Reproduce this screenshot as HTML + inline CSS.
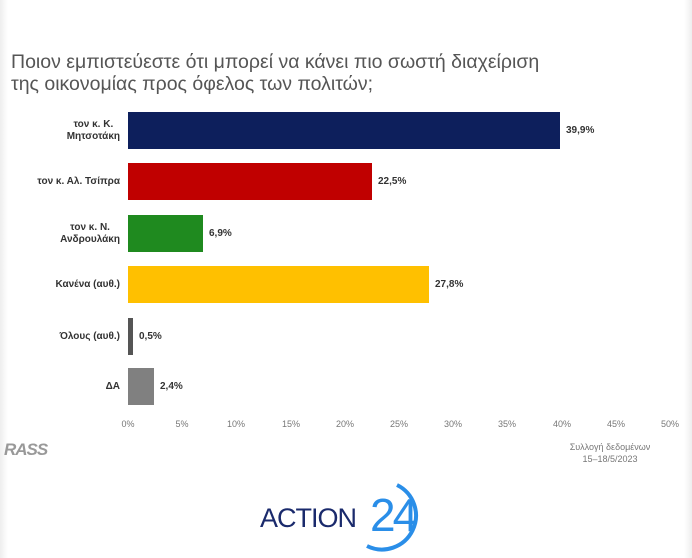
<!DOCTYPE html>
<html><head><meta charset="utf-8"><style>
body{margin:0;width:692px;height:558px;background:#fff;position:relative;overflow:hidden;font-family:"Liberation Sans","DejaVu Sans",sans-serif}
.t{position:absolute;left:11px;top:51px;font-size:19.5px;line-height:22px;color:#555;white-space:nowrap}
.bar{position:absolute;left:128px;height:37px}
.lab{position:absolute;right:572px;font-size:10px;font-weight:bold;color:#333;text-align:center;line-height:12px}
.v{position:absolute;font-size:10px;font-weight:bold;color:#333}
.tk{position:absolute;top:419px;font-size:9px;color:#777;width:30px;margin-left:-15px;text-align:center}
</style></head><body>
<div style="position:absolute;left:0;top:0;width:8px;height:558px;background:linear-gradient(90deg,#eee,#fff)"></div>
<div style="position:absolute;right:0;top:0;width:8px;height:558px;background:linear-gradient(270deg,#eee,#fff)"></div>
<div class="t">Ποιον εμπιστεύεστε ότι μπορεί να κάνει πιο σωστή διαχείριση<br>της οικονομίας προς όφελος των πολιτών;</div>

<div class="bar" style="top:112px;width:432px;background:#0d1f5c"></div>
<div class="bar" style="top:163px;width:244px;background:#c00000"></div>
<div class="bar" style="top:215px;width:75px;background:#1f8a1f"></div>
<div class="bar" style="top:266px;width:301px;background:#ffc000"></div>
<div class="bar" style="top:318px;width:5px;background:#555"></div>
<div class="bar" style="top:368px;width:26px;background:#808080"></div>

<div class="lab" style="top:119px">τον κ. Κ.<br>Μητσοτάκη</div>
<div class="lab" style="top:176px">τον κ. Αλ. Τσίπρα</div>
<div class="lab" style="top:222px">τον κ. Ν.<br>Ανδρουλάκη</div>
<div class="lab" style="top:279px">Κανένα (αυθ.)</div>
<div class="lab" style="top:331px">Όλους (αυθ.)</div>
<div class="lab" style="top:381px">ΔΑ</div>

<div class="v" style="left:566px;top:125px">39,9%</div>
<div class="v" style="left:378px;top:176px">22,5%</div>
<div class="v" style="left:209px;top:228px">6,9%</div>
<div class="v" style="left:435px;top:279px">27,8%</div>
<div class="v" style="left:139px;top:331px">0,5%</div>
<div class="v" style="left:160px;top:381px">2,4%</div>

<div class="tk" style="left:128px">0%</div><div class="tk" style="left:182px">5%</div>
<div class="tk" style="left:236px">10%</div><div class="tk" style="left:291px">15%</div>
<div class="tk" style="left:345px">20%</div><div class="tk" style="left:399px">25%</div>
<div class="tk" style="left:453px">30%</div><div class="tk" style="left:507px">35%</div>
<div class="tk" style="left:562px">40%</div><div class="tk" style="left:616px">45%</div>
<div class="tk" style="left:670px">50%</div>

<div style="position:absolute;left:4px;top:440px;font-size:17px;font-weight:bold;font-style:italic;color:#999;letter-spacing:-1px">RASS</div>
<div style="position:absolute;left:560px;top:441px;width:100px;text-align:center;font-size:9px;color:#777;line-height:12px">Συλλογή δεδομένων<br>15–18/5/2023</div>

<div style="position:absolute;left:260px;top:503px;font-size:27px;color:#1a2a6c;letter-spacing:-1px">ACTION</div>
<div style="position:absolute;left:370px;top:490px;font-size:46px;line-height:50px;color:#2a8ee8;letter-spacing:-3px">24</div>
<svg style="position:absolute;left:355px;top:480px" width="80" height="78"><path d="M42 5 A33 33 0 1 1 12 66" fill="none" stroke="#2a8ee8" stroke-width="4"/></svg>
</body></html>
